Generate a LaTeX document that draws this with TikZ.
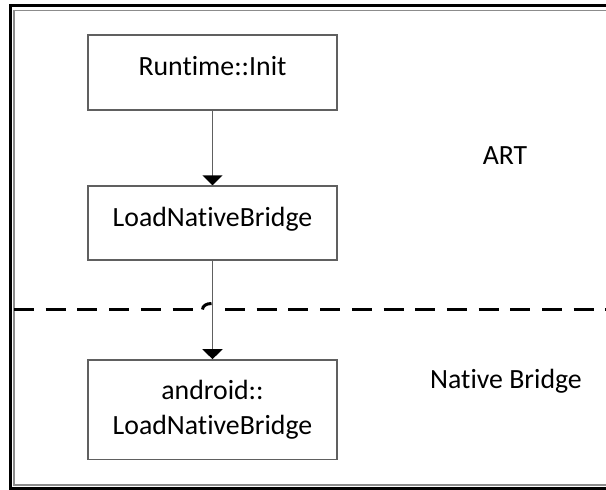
\documentclass[tikz,border=0pt]{standalone}
\usepackage{fontspec}
\setmainfont{Carlito}[RawFeature={-liga;-clig;-rlig;-calt;-dlig}]
\usetikzlibrary{arrows.meta}
\definecolor{boxgray}{HTML}{606060}
\definecolor{framegray}{HTML}{8C8C8C}
\begin{document}
\begin{tikzpicture}[x=1pt,y=-1pt,
  labelfont/.style={font=\fontsize{27.8}{35}\selectfont},
  stepbox/.style={draw=boxgray, line width=1.5pt, fill=white, minimum width=249pt,
    inner sep=0pt, align=center, labelfont},
  onelinebox/.style={stepbox, text height=0.85em, text depth=0.21em},
  flow/.style={draw=boxgray, line width=1.5pt,
    -{Triangle[width=20pt,length=10pt,color=black]}},
  divider/.style={line width=3pt, black, dash pattern=on 20pt off 11.7pt},
  region/.style={labelfont, anchor=base, inner sep=0pt}
]
\useasboundingbox (0,0) rectangle (606,490);

% double frame, open to the right
\draw[line width=3pt, black] (10.5,5.3) rectangle (660,488.7);
\draw[line width=1.5pt, framegray] (14,10.7) rectangle (660,485);

% call chain
\node[onelinebox, minimum height=75pt] (init) at (212.5,72.5) {Runtime::Init};
\node[onelinebox, minimum height=74pt] (load) at (212.5,223) {LoadNativeBridge};
\node[stepbox, minimum height=99.5pt] (aload) at (212.5,409.7) {android::\\LoadNativeBridge};

\draw[flow] (init.south) -- (load.north);
\draw[flow] (load.south) -- (aload.north);

% boundary between the two layers, with a hop over the call
\coordinate (dl) at (14,309.5);
\coordinate (hopa) at (202.5,309.5);
\coordinate (hopb) at (211.5,303.5);
\coordinate (dr) at (225,309.5);
\coordinate (de) at (640,309.5);
\draw[divider] (dl) -- (hopa);
\draw[line width=3pt, black] (hopa) .. controls (202.5,305.8) and (206.5,303.5) .. (hopb);
\draw[divider] (dr) -- (de);

% layer names
\node[region] (art) at (505,164) {ART};
\node[region] (nb) at (506,388) {Native Bridge};
\end{tikzpicture}
\end{document}
